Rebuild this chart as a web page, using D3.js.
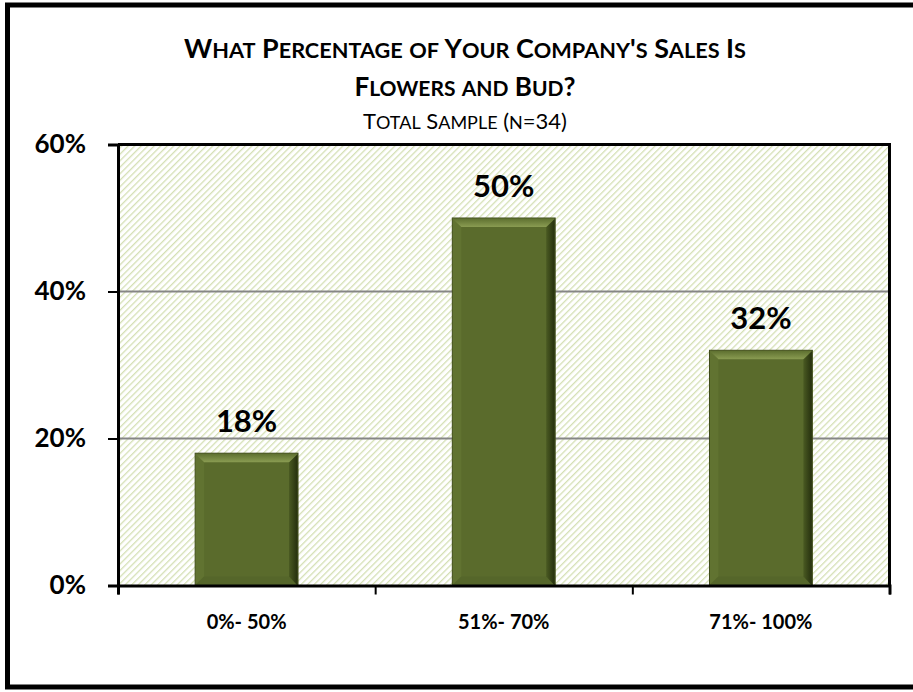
<!DOCTYPE html>
<html>
<head>
<meta charset="utf-8">
<script src="https://cdn.jsdelivr.net/npm/d3@7"></script>
<style>
  body { margin: 0; background: #fff; }
  svg text { font-family: Lato, "Open Sans", sans-serif; font-weight: bold; fill: #000; }
</style>
</head>
<body>
<div id="chart"></div>
<script>

// chart data
var categories = ["0%- 50%", "51%- 70%", "71%- 100%"];
var values = [18, 50, 32];
var y_ticks = [0, 20, 40, 60];
var title_lines = ["What Percentage of Your Company's Sales Is", "Flowers and Bud?"];
var subtitle = "Total Sample (n=34)";

var W = 913, H = 692;
var margin = {top: 144.5, left: 118, right: W - 889.5, bottom: H - 585.5};
var plot_w = W - margin.left - margin.right;
var plot_h = H - margin.top - margin.bottom;

var svg = d3.select("#chart").append("svg")
    .attr("width", W)
    .attr("height", H);

var defs = svg.append("defs");

// light green diagonal hatch for plot background
var pat = defs.append("pattern")
    .attr("id", "hatch")
    .attr("patternUnits", "userSpaceOnUse")
    .attr("width", 4.6)
    .attr("height", 4.6)
    .attr("patternTransform", "rotate(45)");
pat.append("rect").attr("width", 4.6).attr("height", 4.6).attr("fill", "#ffffff");
pat.append("rect").attr("width", 1.3).attr("height", 4.6).attr("fill", "#d5e0b5");

// outer frame (runs off the right edge like the reference)
svg.append("rect")
    .attr("x", 7.5).attr("y", 5)
    .attr("width", W + 20).attr("height", 682)
    .attr("fill", "none")
    .attr("stroke", "#000")
    .attr("stroke-width", 5);

var x = d3.scaleBand()
    .domain(categories)
    .range([margin.left, margin.left + plot_w])
    .paddingInner(0.6)
    .paddingOuter(0.3);

var xTicks = d3.scaleLinear()
    .domain([0, categories.length])
    .range([margin.left, margin.left + plot_w]);

var y = d3.scaleLinear()
    .domain([0, 60])
    .range([margin.top + plot_h, margin.top]);

var g = svg.append("g");

// plot background
g.append("rect")
    .attr("x", margin.left).attr("y", margin.top)
    .attr("width", plot_w).attr("height", plot_h)
    .attr("fill", "url(#hatch)");

// grid lines
g.selectAll(".grid")
    .data(y_ticks.filter(function(d){ return d > 0 && d < 60; }))
    .enter().append("line")
    .attr("x1", margin.left).attr("x2", margin.left + plot_w)
    .attr("y1", function(d){ return y(d); })
    .attr("y2", function(d){ return y(d); })
    .attr("stroke", "#868686")
    .attr("stroke-width", 2);

// bar gradients
var gTop = defs.append("linearGradient").attr("id", "bevTop").attr("x1", 0).attr("y1", 0).attr("x2", 0).attr("y2", 1);
gTop.append("stop").attr("offset", "0%").attr("stop-color", "#5e7030");
gTop.append("stop").attr("offset", "100%").attr("stop-color", "#8a9c52");
var gRight = defs.append("linearGradient").attr("id", "bevRight").attr("x1", 0).attr("y1", 0).attr("x2", 1).attr("y2", 0);
gRight.append("stop").attr("offset", "0%").attr("stop-color", "#4a5a22");
gRight.append("stop").attr("offset", "100%").attr("stop-color", "#26300e");

// bars with a bevelled look
var bev = 9;
var bars = g.selectAll(".bar")
    .data(values)
    .enter().append("g")
    .attr("class", "bar");

bars.each(function(d, i){
  var b = d3.select(this);
  var x0 = x(categories[i]), x1 = x0 + x.bandwidth();
  var y0 = y(d), y1 = y(0);
  b.append("rect")
      .attr("x", x0).attr("y", y0)
      .attr("width", x1 - x0).attr("height", y1 - y0)
      .attr("fill", "#5a6b2c")
      .attr("stroke", "#3c4818")
      .attr("stroke-width", 1);
  // left bevel
  b.append("polygon")
      .attr("points", [[x0 + 0.5, y0], [x0 + bev, y0 + bev], [x0 + bev, y1 - bev], [x0 + 0.5, y1]].join(" "))
      .attr("fill", "#617331");
  // bottom bevel
  b.append("polygon")
      .attr("points", [[x0, y1 - 0.5], [x1, y1 - 0.5], [x1 - bev, y1 - bev], [x0 + bev, y1 - bev]].join(" "))
      .attr("fill", "#55662a");
  // right bevel
  b.append("polygon")
      .attr("points", [[x1 - 0.5, y0], [x1 - 0.5, y1], [x1 - bev, y1 - bev], [x1 - bev, y0 + bev]].join(" "))
      .attr("fill", "url(#bevRight)");
  // top bevel
  b.append("polygon")
      .attr("points", [[x0, y0 + 0.5], [x1, y0 + 0.5], [x1 - bev, y0 + bev], [x0 + bev, y0 + bev]].join(" "))
      .attr("fill", "url(#bevTop)");
});

// value labels
g.selectAll(".val")
    .data(values)
    .enter().append("text")
    .attr("x", function(d, i){ return x(categories[i]) + x.bandwidth() / 2; })
    .attr("y", function(d){ return y(d) - 21; })
    .attr("text-anchor", "middle")
    .style("font-size", "31px")
    .text(function(d){ return d + "%"; });

// frame: top and right borders
g.append("line")
    .attr("x1", margin.left).attr("x2", margin.left + plot_w)
    .attr("y1", margin.top).attr("y2", margin.top)
    .attr("stroke", "#000").attr("stroke-width", 3);
g.append("line")
    .attr("x1", margin.left + plot_w).attr("x2", margin.left + plot_w)
    .attr("y1", margin.top - 1.5).attr("y2", margin.top + plot_h)
    .attr("stroke", "#000").attr("stroke-width", 3);

// y axis
var yAxis = g.append("g")
    .attr("transform", "translate(" + margin.left + ",0)")
    .call(d3.axisLeft(y).tickValues(y_ticks).tickSize(10).tickPadding(22)
      .tickFormat(function(d){ return d + "%"; }));
yAxis.select(".domain").attr("stroke", "#000").attr("stroke-width", 3);
yAxis.selectAll(".tick line").attr("stroke", "#000").attr("stroke-width", 2);
yAxis.selectAll(".tick text")
    .style("font-family", "Lato, sans-serif")
    .style("font-weight", "bold")
    .style("font-size", "26px");

// x axis
var xAxis = g.append("g")
    .attr("transform", "translate(0," + (margin.top + plot_h) + ")")
    .call(d3.axisBottom(xTicks).tickValues(d3.range(categories.length + 1)).tickSize(9).tickFormat(""));
xAxis.select(".domain").attr("stroke", "#000").attr("stroke-width", 3);
xAxis.selectAll(".tick line").attr("stroke", "#000").attr("stroke-width", 2);

g.selectAll(".xlab")
    .data(categories)
    .enter().append("text")
    .attr("x", function(d){ return x(d) + x.bandwidth() / 2; })
    .attr("y", margin.top + plot_h + 43)
    .attr("text-anchor", "middle")
    .style("font-size", "20px")
    .text(function(d){ return d; });

// small caps by hand: lowercase letters become smaller capitals
function smallCaps(sel, text, big, small) {
  var runs = [];
  text.split("").forEach(function(ch){
    var low = ch !== ch.toUpperCase();
    if (runs.length && runs[runs.length - 1].low === low) runs[runs.length - 1].s += ch;
    else runs.push({low: low, s: ch});
  });
  runs.forEach(function(r){
    sel.append("tspan")
        .style("font-size", (r.low ? small : big) + "px")
        .text(r.s.toUpperCase());
  });
}

// title
var tx = 465;
title_lines.forEach(function(line, i){
  var t = svg.append("text")
      .attr("x", tx)
      .attr("y", 58 + i * 38)
      .attr("text-anchor", "middle")
      .attr("textLength", i === 0 ? 562 : null)
      .attr("lengthAdjust", "spacingAndGlyphs");
  smallCaps(t, line, 26, 21);
});

var st = svg.append("text")
    .attr("x", tx)
    .attr("y", 129)
    .attr("text-anchor", "middle")
    .style("font-weight", "normal");
smallCaps(st, subtitle, 22, 18);

</script>
</body>
</html>
